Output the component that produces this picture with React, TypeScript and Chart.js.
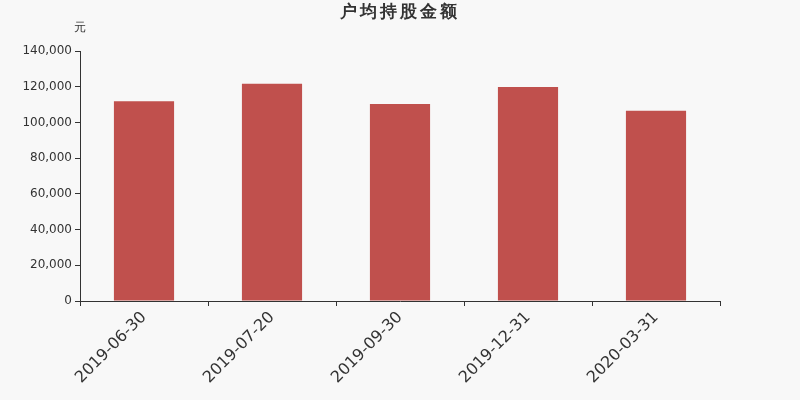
import { useEffect, useRef } from 'react';
import { Chart, registerables } from 'chart.js';

Chart.register(...registerables);

const categories = ['2019-06-30', '2019-07-20', '2019-09-30', '2019-12-31', '2020-03-31'];
const amounts = [111800, 121700, 110300, 119900, 106600];

const FONT = '"DejaVu Sans", sans-serif';

const headerPlugin = {
  id: 'header',
  afterDraw(chart: Chart) {
    const ctx = chart.ctx as any;
    ctx.save();
    ctx.fillStyle = '#333';
    ctx.textAlign = 'center';
    ctx.textBaseline = 'middle';
    ctx.font = `bold 17px ${FONT}`;
    ctx.letterSpacing = '3px';
    ctx.fillText('户均持股金额', 400, 13);
    ctx.letterSpacing = '0px';
    ctx.font = `12px ${FONT}`;
    ctx.fillText('元', 80, 28);
    ctx.restore();
  },
};

export default function App() {
  const canvasRef = useRef<HTMLCanvasElement>(null);

  useEffect(() => {
    document.body.style.margin = '0';
    document.body.style.background = '#f8f8f8';
    if (!canvasRef.current) return;

    const chart = new Chart(canvasRef.current, {
      type: 'bar',
      data: {
        labels: categories,
        datasets: [
          {
            data: amounts,
            backgroundColor: '#c0504d',
            barPercentage: 0.47,
            categoryPercentage: 1,
          },
        ],
      },
      options: {
        animation: false,
        responsive: false,
        layout: { padding: { top: 51, left: 0, right: 80, bottom: 0 } },
        plugins: {
          legend: { display: false },
          title: { display: false },
          tooltip: { enabled: false },
        },
        scales: {
          y: {
            min: 0,
            max: 140000,
            ticks: {
              stepSize: 20000,
              color: '#333',
              font: { family: FONT, size: 12 },
              padding: 3,
            },
            grid: {
              drawOnChartArea: false,
              tickLength: 5,
              color: '#333',
            },
            border: { color: '#333' },
            afterFit(scale: any) {
              scale.width = 80;
            },
          },
          x: {
            ticks: {
              color: '#333',
              font: { family: FONT, size: 16 },
              minRotation: 45,
              maxRotation: 45,
              padding: 2,
            },
            grid: {
              offset: true,
              drawOnChartArea: false,
              tickLength: 5,
              color: '#333',
            },
            border: { color: '#333' },
            afterFit(scale: any) {
              scale.height = 99;
            },
          },
        },
      },
      plugins: [headerPlugin],
    });

    return () => {
      chart.destroy();
    };
  }, []);

  return (
    <div style={{ width: 800, height: 400, background: '#f8f8f8' }}>
      <canvas ref={canvasRef} width={800} height={400}></canvas>
    </div>
  );
}
